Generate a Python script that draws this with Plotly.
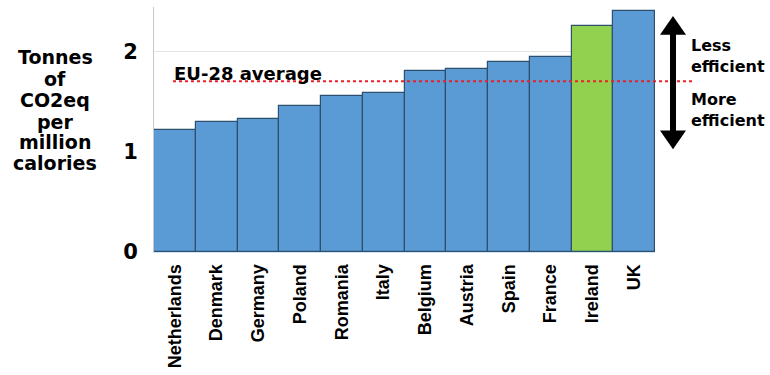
import plotly.graph_objects as go

countries = ["Netherlands", "Denmark", "Germany", "Poland", "Romania", "Italy",
             "Belgium", "Austria", "Spain", "France", "Ireland", "UK"]
values = [1.22, 1.29, 1.32, 1.455, 1.55, 1.58, 1.80, 1.82, 1.89, 1.94, 2.25, 2.40]
eu_average = 1.70
highlight = "Ireland"
ytitle_lines = ["Tonnes", "of", "CO2eq", "per", "million", "calories"]

blue = "#5b9bd5"
green = "#92d050"
colors = [green if c == highlight else blue for c in countries]

W, H = 770, 375
L, R, T, B = 154, 115, 7, 120
pw, ph = W - L - R, H - T - B

def px_x(x):
    return (x - L) / pw

def px_y(y):
    return (H - B - y) / ph

WIDE = "DejaVu Sans"

fig = go.Figure()
fig.add_trace(go.Bar(
    x=countries, y=values,
    marker=dict(color=colors, line=dict(color="#2f4f6f", width=1.2)),
    width=1.0,
))

shapes = []
shapes.append(dict(type="line", xref="paper", yref="y",
                   x0=px_x(173), x1=px_x(693), y0=eu_average, y1=eu_average,
                   line=dict(color="#e8222a", width=2, dash="dot"), layer="above"))
ax = px_x(673)
shapes.append(dict(type="line", xref="paper", yref="paper",
                   x0=ax, x1=ax, y0=px_y(32), y1=px_y(135),
                   line=dict(color="black", width=6)))
hw = 13 / pw
shapes.append(dict(type="path", xref="paper", yref="paper",
                   path=f"M {ax-hw},{px_y(35)} L {ax+hw},{px_y(35)} L {ax},{px_y(16)} Z",
                   fillcolor="black", line=dict(width=0)))
shapes.append(dict(type="path", xref="paper", yref="paper",
                   path=f"M {ax-hw},{px_y(132)} L {ax+hw},{px_y(132)} L {ax},{px_y(151)} Z",
                   fillcolor="black", line=dict(width=0)))

annotations = [
    dict(text="<b>EU-28 average</b>", xref="paper", yref="paper",
         x=px_x(172), y=px_y(74), xanchor="left", yanchor="middle",
         showarrow=False, font=dict(size=18, color="black", family=WIDE)),
    dict(text="<b>Less<br>efficient</b>", xref="paper", yref="paper",
         x=px_x(689), y=px_y(57), xanchor="left", yanchor="middle",
         showarrow=False, align="left",
         font=dict(size=16, color="black", family=WIDE)),
    dict(text="<b>More<br>efficient</b>", xref="paper", yref="paper",
         x=px_x(689), y=px_y(111), xanchor="left", yanchor="middle",
         showarrow=False, align="left",
         font=dict(size=16, color="black", family=WIDE)),
]
line_ys = [58, 80, 101, 123, 144, 165]
for txt, yy in zip(ytitle_lines, line_ys):
    annotations.append(dict(text=f"<b>{txt}</b>", xref="paper", yref="paper",
                            x=px_x(55), y=px_y(yy), xanchor="center", yanchor="middle",
                            showarrow=False,
                            font=dict(size=19, color="black", family=WIDE)))

fig.update_layout(
    width=W, height=H,
    margin=dict(l=L, r=R, t=T, b=B, pad=0),
    plot_bgcolor="white", paper_bgcolor="white",
    showlegend=False, bargap=0,
    shapes=shapes, annotations=annotations,
    font=dict(family="Liberation Sans", color="black"),
)
fig.update_xaxes(
    tickangle=-90, showgrid=False, showline=True, linecolor="#cfe3f5", linewidth=1,
    tickfont=dict(size=18, weight="bold", color="black", family="Liberation Sans"),
    ticks="", ticklabelstandoff=4,
)
fig.update_yaxes(
    range=[0, 2.44], tickvals=[0, 1, 2], ticktext=["0", "1", "2"],
    showgrid=True, gridcolor="#e4e4e4", gridwidth=1,
    showline=True, linecolor="#c8c8c8", linewidth=1, zeroline=False,
    tickfont=dict(size=21, weight="bold", color="black", family=WIDE),
    ticks="", ticklabelstandoff=11,
)

fig.write_html("out.html")
